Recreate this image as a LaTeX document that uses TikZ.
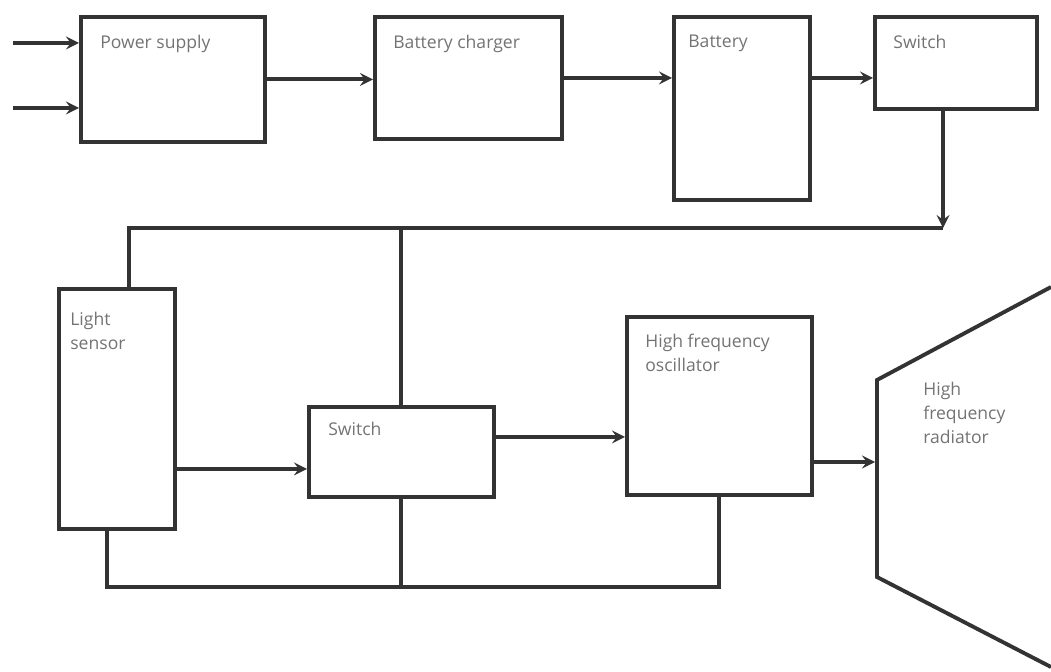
\documentclass[tikz,border=0pt]{standalone}
\usepackage{fontspec}
\setmainfont{Open Sans}
\usetikzlibrary{positioning}
\tikzset{
  blk/.style={draw=black!80,line width=2.2pt,anchor=north west,inner sep=0pt},
  lbl/.style={anchor=north west,inner sep=0pt,text=black!55,align=left,
    font=\fontsize{10}{13.5}\selectfont},
  wire/.style={draw=black!80,line width=2.2pt}
}
\begin{document}
\begin{tikzpicture}[x=0.02cm,y=-0.02cm,>=stealth]
\useasboundingbox (0,0) rectangle (1051,672);
% top row
\node[blk,minimum width=3.68cm,minimum height=2.5cm] (ps) at (79,15) {};
\node[blk,minimum width=3.74cm,minimum height=2.44cm] (chg) at (373,15) {};
\node[blk,minimum width=2.72cm,minimum height=3.66cm] (bat) at (672,15) {};
\node[blk,minimum width=3.24cm,minimum height=1.84cm] (swa) at (873,15) {};
% lower row
\node[blk,minimum width=2.32cm,minimum height=4.8cm] (ls) at (57,287) {};
\node[blk,minimum width=3.7cm,minimum height=1.8cm] (swb) at (307,405) {};
\node[blk,minimum width=3.7cm,minimum height=3.56cm] (osc) at (625,315) {};

% labels
\node[lbl,below right=0.4cm and 0.42cm of ps.north west] (pst) {Power supply};
\node[lbl,below right=0.4cm and 0.4cm of chg.north west] (chgt) {Battery charger};
\node[lbl,below right=0.4cm and 0.32cm of bat.north west] (batt) {Battery};
\node[lbl,below right=0.4cm and 0.4cm of swa.north west] (swat) {Switch};
\node[lbl,below right=0.5cm and 0.26cm of ls.north west] (lst) {Light\\sensor};
\node[lbl,below right=0.34cm and 0.42cm of swb.north west] (swbt) {Switch};
\node[lbl,below right=0.38cm and 0.4cm of osc.north west] (osct) {High frequency\\oscillator};
\node[lbl] (radt) at (923,382) {High\\frequency\\radiator};

% radiator
\draw[wire] (1051,287) -- (877,380) -- (877,577) -- (1051,667);

\coordinate (ina) at (13,43);
\coordinate (inb) at (13,108);
\coordinate (bus) at (943,228);
\coordinate (gnd) at (398,587);
\coordinate (rin) at (875,462);

\draw[wire,->] (ina) -- (ina -| ps.west);
\draw[wire,->] (inb) -- (inb -| ps.west);
\draw[wire,->] (ps.east) -- (ps.east -| chg.west);
\draw[wire,->] (chg.east) -- (chg.east -| bat.west);
\draw[wire,->] (chg.east -| bat.east) -- (chg.east -| swa.west);
\draw[wire,->] (swa.south -| bus) -- (bus);
\draw[wire] (bus) -| ([xshift=0.24cm]ls.north);
\draw[wire] (swb.north) -- (swb.north |- bus);
\draw[wire,->] ([yshift=-1.2cm]ls.east) -- ([yshift=-1.2cm]ls.east -| swb.west);
\draw[wire,->] ([yshift=0.3cm]swb.east) -- ([yshift=0.3cm]swb.east -| osc.west);
\draw[wire,->] (rin -| osc.east) -- (rin);
\draw[wire] ([xshift=-0.2cm]ls.south) |- (osc.south |- gnd) -- (osc.south);
\draw[wire] (swb.south) -- (swb.south |- gnd);
\end{tikzpicture}
\end{document}
